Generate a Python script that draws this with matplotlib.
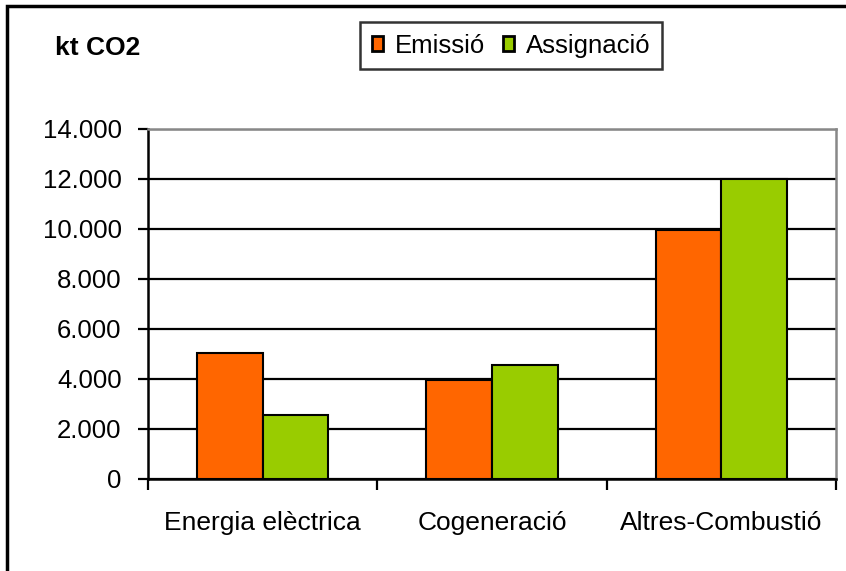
import matplotlib
matplotlib.use("Agg")
import matplotlib.pyplot as plt
import numpy as np
from matplotlib.patches import Rectangle

plt.rcParams['font.family'] = ['Liberation Sans', 'DejaVu Sans']

categories = ['Energia elèctrica', 'Cogeneració', 'Altres-Combustió']
emissio = [5050, 3950, 9950]
assignacio = [2550, 4550, 12000]
series_names = ['Emissió', 'Assignació']
yticks = [0, 2000, 4000, 6000, 8000, 10000, 12000, 14000]
ytick_labels = ['0', '2.000', '4.000', '6.000', '8.000', '10.000', '12.000', '14.000']

orange = '#FF6600'
green = '#99CC00'

W, H = 846, 571
fig = plt.figure(figsize=(W / 100, H / 100), dpi=100)
ax = fig.add_axes([148 / W, (H - 479) / H, 688 / W, 350 / H])

x = np.arange(len(categories))
bw = 1 / 3.5
b1 = ax.bar(x - bw / 2, emissio, bw, color=orange, edgecolor='black', linewidth=1.5,
            label=series_names[0], zorder=3)
b2 = ax.bar(x + bw / 2, assignacio, bw, color=green, edgecolor='black', linewidth=1.5,
            label=series_names[1], zorder=3)

ax.set_xlim(-0.5, len(categories) - 0.5)
ax.set_ylim(0, 14000)

ax.set_yticks(yticks)
ax.set_yticklabels(ytick_labels, fontsize=18.5)
ax.yaxis.grid(True, color='black', linewidth=1.6, zorder=1)
ax.set_axisbelow(True)

# category boundaries get tick marks, labels sit in the middle
ax.set_xticks(np.arange(len(categories) + 1) - 0.5)
ax.set_xticklabels([])
ax.set_xticks(x, minor=True)
ax.set_xticklabels(categories, minor=True, fontsize=19)
ax.tick_params(axis='x', which='major', direction='out', length=8, width=1.6, color='black')
ax.tick_params(axis='x', which='minor', length=0, pad=23)
ax.tick_params(axis='y', direction='out', length=7, width=1.6, color='black', pad=12)

for side in ['left', 'bottom']:
    ax.spines[side].set_color('black')
    ax.spines[side].set_linewidth(1.8)
for side in ['top', 'right']:
    ax.spines[side].set_color('#888888')
    ax.spines[side].set_linewidth(1.8)

fig.text(55 / W, 1 - 48 / H, 'kt CO2', fontsize=19, fontweight='bold', va='center', ha='left')

leg = fig.legend(handles=[b1, b2], loc='upper left', bbox_to_anchor=(360 / W, 1 - 22 / H),
                 ncol=2, fontsize=18.5, frameon=True, fancybox=False, edgecolor='black',
                 handlelength=0.45, handleheight=0.5, handletextpad=0.45, columnspacing=0.7,
                 borderpad=0.45, borderaxespad=0)
leg.get_frame().set_linewidth(1.8)
for h in leg.legend_handles:
    h.set_linewidth(2)

# outer chart frame (only left and top edges visible in the reference)
fig.patches.append(Rectangle((7 / W, -0.05), 1.2, 1 - 6 / H + 0.05, transform=fig.transFigure,
                             fill=False, edgecolor='black', linewidth=2.5, zorder=0))

fig.savefig('out.png', dpi=100)
